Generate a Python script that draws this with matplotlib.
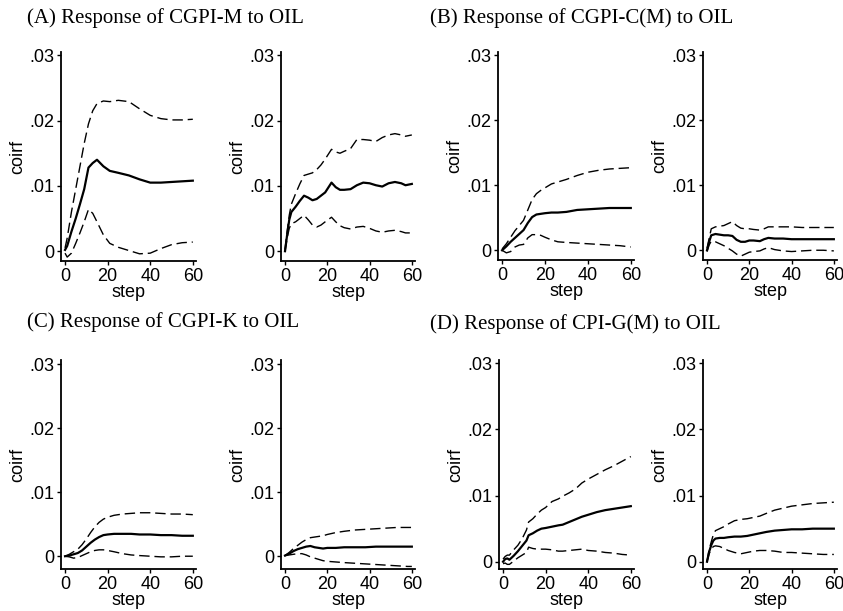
import matplotlib
matplotlib.use("Agg")
from matplotlib import pyplot as plt
import numpy as np

# ---- data (coirf by step) ----
a1_step = [0, 1, 3, 5, 7, 9, 11, 13, 15, 18, 21, 25, 30, 35, 40, 45, 50, 55, 60]
a1_up = [.0005, .002, .006, .0095, .013, .0165, .0195, .0215, .0226, .023, .0229, .0231, .0229, .0218, .0208, .0203, .0201, .0201, .0202]
a1_irf = [.0002, .0008, .003, .005, .0072, .0095, .0128, .0135, .014, .013, .0123, .012, .0116, .011, .0105, .0105, .0106, .0107, .0108]
a1_lo = [-.0003, -.0009, -.0003, .0012, .0028, .0045, .0064, .0058, .0045, .0025, .0012, .0006, .0001, -.0004, -.0003, .0004, .001, .0013, .0014]

a2_step = [0, 1, 2, 3, 5, 7, 9, 11, 13, 15, 17, 19, 22, 24, 26, 28, 31, 34, 37, 40, 43, 46, 49, 52, 55, 57, 60]
a2_up = [.0003, .003, .0055, .0072, .0088, .0103, .0116, .0118, .012, .0125, .0132, .0141, .0156, .0152, .015, .0153, .0157, .0171, .0171, .017, .0168, .0174, .0178, .018, .0178, .0176, .0178]
a2_irf = [0, .0025, .0048, .006, .0068, .0077, .0085, .0082, .0078, .008, .0085, .009, .0105, .0098, .0094, .0094, .0095, .0101, .0105, .0104, .0101, .0099, .0104, .0106, .0104, .0101, .0103]
a2_lo = [0, .002, .0035, .0042, .0045, .005, .0055, .0048, .004, .0037, .004, .0045, .0052, .0045, .0039, .0036, .0034, .0037, .0038, .0035, .0031, .0029, .0031, .0032, .003, .0028, .0028]

b1_step = [0, 2, 4, 6, 8, 10, 12, 14, 16, 18, 20, 23, 26, 30, 35, 40, 45, 50, 55, 60]
b1_up = [.0002, .001, .002, .003, .0038, .0046, .0062, .0078, .0087, .0092, .0096, .0102, .0105, .0109, .0115, .012, .0123, .0125, .0126, .0127]
b1_irf = [0, .0006, .0013, .0019, .0025, .0031, .0042, .0051, .0055, .0056, .0057, .0058, .0058, .0059, .0062, .0063, .0064, .0065, .0065, .0065]
b1_lo = [0, -.0004, -.0002, .0005, .0008, .0009, .0019, .0024, .0024, .0023, .002, .0016, .0013, .0012, .0011, .001, .0009, .0008, .0007, .0005]

b2_step = [0, 1, 2, 4, 6, 8, 10, 12, 14, 16, 18, 20, 22, 25, 27, 29, 32, 36, 40, 45, 50, 55, 60]
b2_up = [.0003, .0018, .0033, .0036, .0037, .0038, .0041, .0044, .0038, .0034, .0033, .0033, .0032, .0031, .0033, .0036, .0036, .0036, .0036, .0035, .0035, .0035, .0035]
b2_irf = [0, .0013, .0023, .0025, .0024, .0023, .0023, .0022, .0016, .0013, .0013, .0015, .0015, .0014, .0017, .0019, .0018, .0018, .0017, .0017, .0017, .0017, .0017]
b2_lo = [-.0002, .0008, .0014, .0013, .001, .0007, .0003, -.0001, -.0006, -.0009, -.0006, -.0003, -.0002, -.0001, .0002, .0004, .0001, -.0001, -.0002, -.0001, 0, 0, -.0001]

c1_step = [0, 2, 4, 6, 8, 10, 12, 14, 16, 18, 20, 23, 27, 31, 35, 40, 45, 50, 55, 60]
c1_up = [0, .0003, .0007, .0011, .0018, .0027, .0037, .0046, .0053, .0058, .0061, .0064, .0066, .0067, .0068, .0068, .0067, .0066, .0066, .0065]
c1_irf = [0, .0001, .0003, .0005, .0009, .0015, .0021, .0026, .003, .0033, .0034, .0035, .0035, .0035, .0034, .0034, .0033, .0033, .0032, .0032]
c1_lo = [0, -.0001, -.0003, -.0002, .0001, .0004, .0007, .0009, .001, .001, .0009, .0007, .0004, .0002, .0001, 0, -.0001, -.0001, 0, 0]

c2_step = [0, 2, 4, 6, 8, 10, 12, 14, 16, 18, 20, 24, 28, 33, 38, 43, 48, 53, 58, 60]
c2_up = [.0001, .0006, .0012, .0017, .0022, .0026, .0029, .003, .0031, .0032, .0034, .0037, .0039, .0041, .0042, .0043, .0044, .0045, .0045, .0045]
c2_irf = [.0001, .0004, .0008, .0011, .0013, .0015, .0016, .0014, .0013, .0012, .0013, .0013, .0014, .0014, .0014, .0015, .0015, .0015, .0015, .0015]
c2_lo = [.0001, .0002, .0003, .0004, .0004, .0002, -.0001, -.0003, -.0005, -.0007, -.0008, -.0009, -.001, -.0011, -.0012, -.0013, -.0014, -.0015, -.0016, -.0016]

d1_step = [0, 1, 2, 3, 5, 7, 9, 11, 12, 14, 16, 18, 20, 23, 26, 28, 31, 34, 37, 40, 44, 48, 52, 56, 60]
d1_up = [.0004, .0008, .001, .001, .0018, .0025, .0035, .0048, .006, .0065, .0072, .0078, .0082, .0091, .0095, .0099, .0104, .011, .0119, .0125, .0132, .0139, .0145, .0152, .0159]
d1_irf = [0, .0004, .0005, .0003, .0009, .0016, .0024, .0032, .004, .0043, .0047, .005, .0051, .0053, .0055, .0056, .006, .0064, .0068, .0071, .0075, .0078, .008, .0082, .0084]
d1_lo = [-.0003, -.0002, -.0004, -.0004, .0001, .0006, .001, .0014, .0022, .002, .0019, .0019, .0019, .0018, .0016, .0016, .0017, .0018, .0019, .0017, .0016, .0014, .0013, .0011, .001]

d2_step = [0, 1, 2, 3, 4, 6, 8, 10, 13, 16, 19, 22, 25, 28, 32, 36, 40, 45, 50, 55, 60]
d2_up = [.0001, .0018, .003, .0041, .0047, .005, .0053, .0057, .0062, .0064, .0065, .0067, .0069, .0073, .0078, .0081, .0084, .0086, .0088, .0089, .009]
d2_irf = [0, .0015, .0025, .0032, .0035, .0036, .0036, .0037, .0038, .0038, .0039, .0041, .0043, .0045, .0047, .0048, .0049, .0049, .005, .005, .005]
d2_lo = [0, .0012, .0019, .0023, .0024, .0023, .002, .0017, .0014, .0012, .0014, .0016, .0017, .0017, .0016, .0014, .0014, .0013, .0012, .0011, .0011]

titles = ['(A) Response of CGPI-M to OIL', '(B) Response of CGPI-C(M) to OIL',
          '(C) Response of CGPI-K to OIL', '(D) Response of CPI-G(M) to OIL']
yticks = [0, .01, .02, .03]
yticklabels = ['0', '.01', '.02', '.03']
xticks = [0, 20, 40, 60]

W, H = 843, 611
SANS = 'Liberation Sans'
SERIF = 'Liberation Serif'


def px2rect(l, r, t, b):
    return [l / W, 1 - b / H, (r - l) / W, (b - t) / H]


def drawPanel(fig, rect, step, up, irf, lo, ylim):
    ax = fig.add_axes(rect)
    ax.plot(step, up, color='k', lw=1.0, linestyle=(0, (7.5, 3.5)))
    ax.plot(step, lo, color='k', lw=1.0, linestyle=(0, (7.5, 3.5)))
    ax.plot(step, irf, color='k', lw=1.6, solid_joinstyle='round')
    ax.set_xlim(-1.9, 61.5)
    ax.set_ylim(ylim)
    ax.set_xticks(xticks)
    ax.set_yticks(yticks)
    ax.set_yticklabels(yticklabels)
    for s in ['top', 'right']:
        ax.spines[s].set_visible(False)
    for s in ['left', 'bottom']:
        ax.spines[s].set_linewidth(1.3)
    ax.tick_params(axis='both', direction='out', length=3, width=1.0,
                   labelsize=13, pad=2)
    for lab in ax.get_xticklabels() + ax.get_yticklabels():
        lab.set_fontfamily(SANS)
    ax.set_xlabel('step', fontsize=13, family=SANS, labelpad=-1)
    ax.set_ylabel('coirf', fontsize=13, family=SANS, labelpad=2)
    return ax


fig = plt.figure(figsize=(W / 100, H / 100), dpi=100)

top_lim = (-0.0015, 0.0305)
c_lim = (-0.0020, 0.0307)
d_lim = (-0.0011, 0.0305)

drawPanel(fig, px2rect(61, 196, 52, 261), a1_step, a1_up, a1_irf, a1_lo, top_lim)
drawPanel(fig, px2rect(281, 415, 52, 261), a2_step, a2_up, a2_irf, a2_lo, top_lim)
drawPanel(fig, px2rect(498, 634, 52, 260), b1_step, b1_up, b1_irf, b1_lo, top_lim)
drawPanel(fig, px2rect(703, 837, 52, 260), b2_step, b2_up, b2_irf, b2_lo, top_lim)
drawPanel(fig, px2rect(61, 196, 360, 569), c1_step, c1_up, c1_irf, c1_lo, c_lim)
drawPanel(fig, px2rect(281, 415, 360, 569), c2_step, c2_up, c2_irf, c2_lo, c_lim)
drawPanel(fig, px2rect(499, 634, 360, 569), d1_step, d1_up, d1_irf, d1_lo, d_lim)
drawPanel(fig, px2rect(703, 837, 360, 569), d2_step, d2_up, d2_irf, d2_lo, d_lim)

# group titles
title_pos = [(27, 18), (430, 18), (27, 322), (430, 324)]
for t, (x, y) in zip(titles, title_pos):
    fig.text(x / W, 1 - y / H, t, fontsize=15, family=SERIF, ha='left', va='center')

plt.savefig('out.png', dpi=100)
